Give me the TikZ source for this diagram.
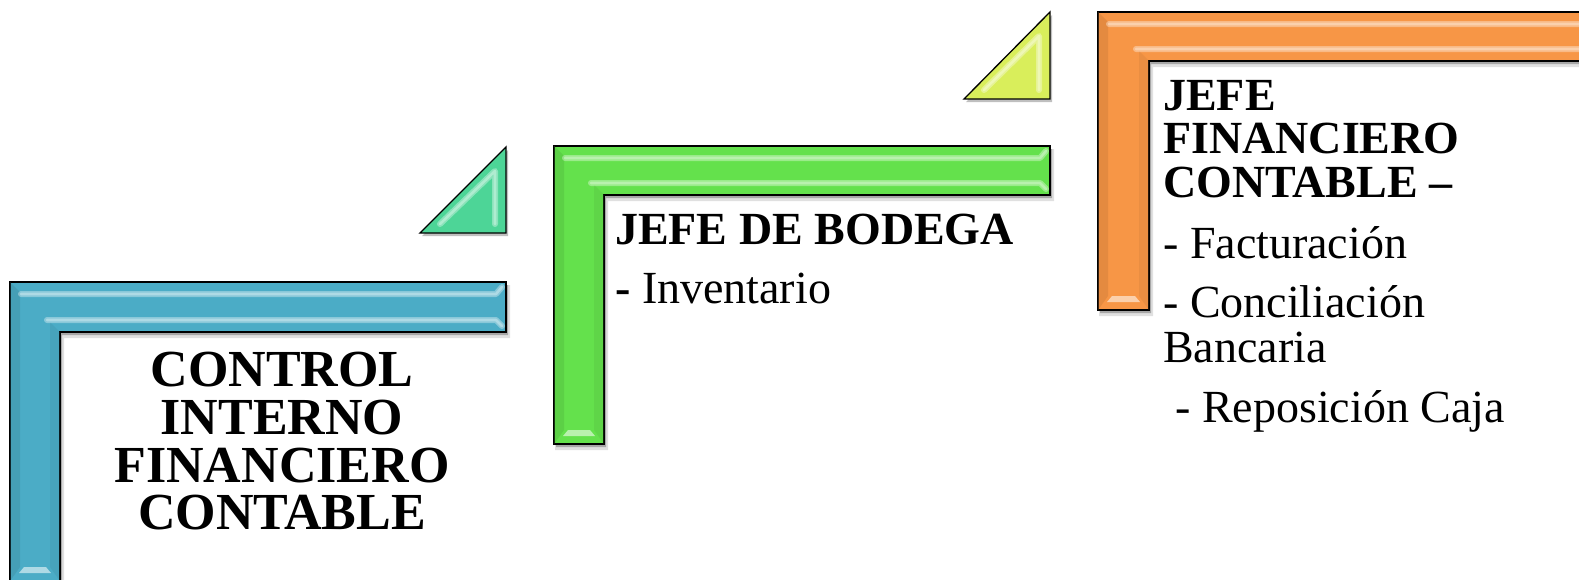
\documentclass[tikz,border=0pt]{standalone}
\usepackage{fontspec}
\setmainfont{Liberation Serif}
\definecolor{blueL}{HTML}{4BACC6}
\definecolor{greenL}{HTML}{64E14C}
\definecolor{orangeL}{HTML}{F79646}
\definecolor{tealT}{HTML}{4DD597}
\definecolor{yellowT}{HTML}{D9EE5B}
\tikzset{
  glow/.style={white,opacity=0.35,line width=6pt,line cap=round,line join=round},
  core/.style={line width=2.6pt,line cap=round,line join=round},
  hd/.style={font=\fontsize{46}{46}\selectfont\bfseries, inner sep=0pt, anchor=base west},
  bd/.style={font=\fontsize{46}{46}\selectfont, inner sep=0pt, anchor=base west},
  big/.style={font=\fontsize{52}{52}\selectfont\bfseries, inner sep=0pt, anchor=base},
}
% #1 left, #2 top, #3 right, #4 bar bottom, #5 inner x, #6 bottom, #7 colour
\newcommand{\bevelL}[7]{%
  \fill[black,opacity=0.12] ({#1+1},{#2+3}) -- ({#3+4},{#2+3}) -- ({#3+4},{#4+6}) -- ({#5+4},{#4+6}) -- ({#5+4},{#6+6}) -- ({#1+1},{#6+6}) -- cycle;
  \fill[black,opacity=0.25] ({#1+2},{#2+3}) -- ({#3+2},{#2+3}) -- ({#3+2},{#4+3}) -- ({#5+2},{#4+3}) -- ({#5+2},{#6+3}) -- ({#1+2},{#6+3}) -- cycle;
  \filldraw[fill=#7,draw=black,line width=1.3pt] (#1,#2) -- (#3,#2) -- (#3,#4) -- (#5,#4) -- (#5,#6) -- (#1,#6) -- cycle;
  \fill[#7!75!black,opacity=0.3] (#1,#2) -- ({#1+10},{#2+10}) -- ({#1+10},{#6-14}) -- (#1,#6) -- cycle;
  \fill[#7!75!black,opacity=0.2] ({#5-10},{#4-10}) -- (#5,#4) -- (#5,#6) -- ({#5-10},{#6-14}) -- cycle;
  \draw[glow] ({#1+11},{#2+12}) -- ({#3-10},{#2+12}) -- ({#3-4},{#2+5});
  \draw[core,white!55!#7] ({#1+11},{#2+12}) -- ({#3-10},{#2+12}) -- ({#3-4},{#2+5});
  \draw[glow] ({#5-13},{#4-12}) -- ({#3-10},{#4-12}) -- ({#3-4},{#4-6});
  \draw[core,white!55!#7] ({#5-13},{#4-12}) -- ({#3-10},{#4-12}) -- ({#3-4},{#4-6});
  \fill[white!55!#7] ({#1+14},{#6-14}) -- ({#5-14},{#6-14}) -- ({#5-9},{#6-8}) -- ({#1+9},{#6-8}) -- cycle;
}
% #1 bottom-left x, #2 top y, #3 right x, #4 bottom y, #5 colour
\newcommand{\bevelT}[5]{%
  \fill[black,opacity=0.25] ({#1+2},{#4+3}) -- ({#3+2},{#2+3}) -- ({#3+2},{#4+3}) -- cycle;
  \filldraw[fill=#5,draw=black,line width=1.3pt] (#1,#4) -- (#3,#2) -- (#3,#4) -- cycle;
  \draw[glow] ({#1+20},{#4-9}) -- ({#3-11},{#2+24}) -- ({#3-11},{#4-9});
  \draw[core,white!55!#5] ({#1+20},{#4-9}) -- ({#3-11},{#2+24}) -- ({#3-11},{#4-9});
}
\begin{document}
\begin{tikzpicture}[x=1pt,y=-1pt]
\useasboundingbox (0,0) rectangle (1579,579);
\fill[white] (0,0) rectangle (1579,579);
\begin{scope}
\clip (0,0) rectangle (1579,579);
\bevelL{10}{282}{506}{332}{60}{581}{blueL}
\bevelT{420}{147}{506}{233}{tealT}
\bevelL{554}{146}{1050}{195}{604}{444}{greenL}
\bevelT{964}{12}{1050}{99}{yellowT}
\bevelL{1098}{12}{1600}{61}{1149}{310}{orangeL}
\end{scope}

\node[big] (c1) at (282,386) {CONTROL};
\node[big] (c2) at (282,434) {INTERNO};
\node[big] (c3) at (282,482) {FINANCIERO};
\node[big] (c4) at (282,529) {CONTABLE};

\node[hd] (g1) at (615,244) {JEFE DE BODEGA};
\node[bd] (g2) at (615,303) {\textbf{-} Inventario};

\node[hd] (o1) at (1163,110) {JEFE};
\node[hd] (o2) at (1163,153) {FINANCIERO};
\node[hd] (o3) at (1163,197) {CONTABLE –};
\node[bd] (o4) at (1163,258) {- Facturación};
\node[bd] (o5) at (1163,317) {- Conciliación};
\node[bd] (o6) at (1163,362) {Bancaria};
\node[bd] (o7) at (1175,422) {- Reposición Caja};
\end{tikzpicture}
\end{document}
